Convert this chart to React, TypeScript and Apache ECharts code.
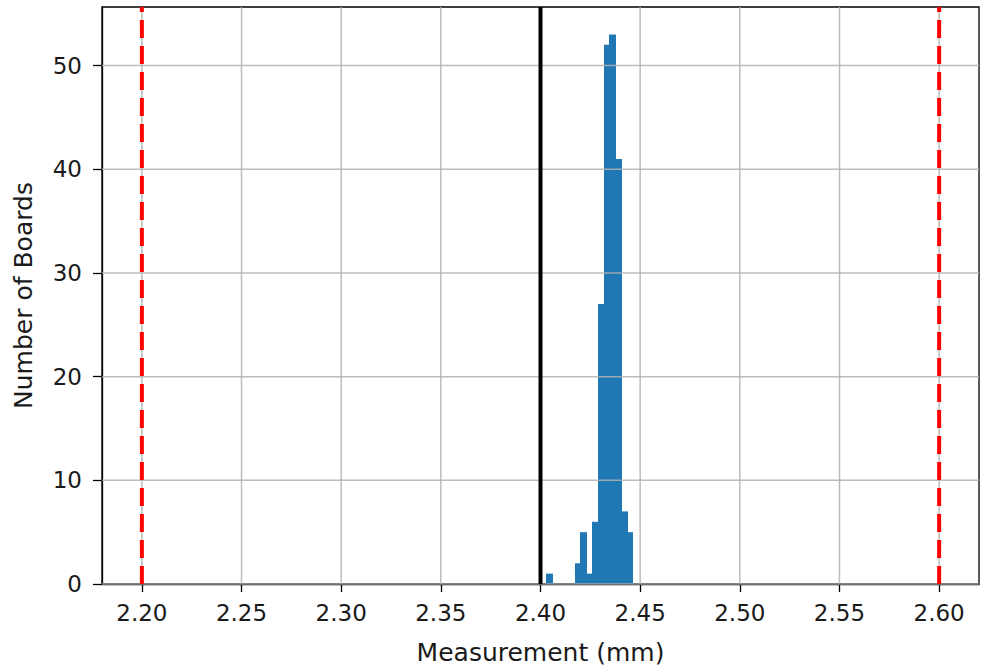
import React, { useEffect, useRef } from "react";
import * as echarts from "echarts";

// Histogram bin edges (mm) and counts per bin
const binEdges = [
  2.4029, 2.4058, 2.4087, 2.4116, 2.4145, 2.4174, 2.4203, 2.4232,
  2.4261, 2.429, 2.4319, 2.4348, 2.4377, 2.4406, 2.4435, 2.4464,
];
const counts = [1, 0, 0, 0, 0, 2, 5, 1, 6, 27, 52, 53, 41, 7, 5];

// Reference lines
const lowerLimit = 2.2;
const upperLimit = 2.6;
const nominal = 2.4;

// Axis ticks
const xTicks = [2.2, 2.25, 2.3, 2.35, 2.4, 2.45, 2.5, 2.55, 2.6];
const yTicks = [0, 10, 20, 30, 40, 50];
const xMin = 2.18;
const xMax = 2.62;
const yMin = 0;
const yMax = 55.65;

const FONT = "DejaVu Sans";
const TEXT = "#1a1a1a";

export default function App() {
  const ref = useRef<HTMLDivElement>(null);
  useEffect(() => {
    if (!ref.current) return;
    const chart = echarts.init(ref.current, undefined, { renderer: "svg" });
    const barData = counts.map((c, i) => [binEdges[i], binEdges[i + 1], c]);
    chart.setOption({
      animation: false,
      backgroundColor: "#ffffff",
      grid: {
        left: 102,
        right: 2,
        top: 7,
        bottom: 83,
        show: true,
        borderColor: "#000",
        borderWidth: 1.3,
        backgroundColor: "transparent",
      },
      xAxis: {
        type: "value",
        min: xMin,
        max: xMax,
        name: "Measurement (mm)",
        nameLocation: "middle",
        nameGap: 56,
        nameTextStyle: { fontFamily: FONT, fontSize: 25, color: TEXT },
        axisLine: { show: true, lineStyle: { color: "#000", width: 1.3 } },
        axisTick: {
          show: true,
          customValues: xTicks,
          length: 8,
          lineStyle: { color: "#000", width: 1.3 },
        },
        axisLabel: {
          customValues: xTicks,
          formatter: (v: number) => v.toFixed(2),
          fontFamily: FONT,
          fontSize: 23,
          color: TEXT,
          margin: 17,
        },
        splitLine: { show: false },
      },
      yAxis: {
        type: "value",
        min: yMin,
        max: yMax,
        interval: 10,
        name: "Number of Boards",
        nameLocation: "middle",
        nameGap: 66,
        nameTextStyle: { fontFamily: FONT, fontSize: 25, color: TEXT },
        axisLine: { show: true, lineStyle: { color: "#000", width: 1.3 } },
        axisTick: { show: true, length: 9, lineStyle: { color: "#000", width: 1.3 } },
        axisLabel: {
          fontFamily: FONT,
          fontSize: 23,
          color: TEXT,
          margin: 20,
          showMaxLabel: false,
        },
        splitLine: { show: false },
      },
      series: [
        {
          type: "custom",
          name: "hist",
          z: 2,
          encode: { x: [0, 1], y: 2 },
          data: barData,
          renderItem: (params: any, api: any) => {
            const p0 = api.coord([api.value(0), api.value(2)]);
            const p1 = api.coord([api.value(1), 0]);
            const x0 = Math.floor(p0[0]);
            const x1 = Math.ceil(p1[0]);
            return {
              type: "rect",
              shape: { x: x0, y: p0[1], width: x1 - x0, height: p1[1] - p0[1] },
              style: { fill: "#1f77b4" },
            };
          },
        },
        {
          type: "custom",
          name: "vgrid",
          z: 3,
          silent: true,
          encode: { x: 0, y: 1 },
          data: xTicks.map((v) => [v, 0]),
          renderItem: (params: any, api: any) => {
            const cs = params.coordSys;
            const x = api.coord([api.value(0), 0])[0];
            return {
              type: "line",
              shape: { x1: x, y1: cs.y, x2: x, y2: cs.y + cs.height },
              style: { stroke: "#b0b0b0", lineWidth: 1.5, opacity: 0.85 },
            };
          },
        },
        {
          type: "custom",
          name: "hgrid",
          z: 3,
          silent: true,
          encode: { x: 0, y: 1 },
          data: yTicks.map((v) => [nominal, v]),
          renderItem: (params: any, api: any) => {
            const cs = params.coordSys;
            const y = api.coord([nominal, api.value(1)])[1];
            return {
              type: "line",
              shape: { x1: cs.x, y1: y, x2: cs.x + cs.width, y2: y },
              style: { stroke: "#b0b0b0", lineWidth: 1.5, opacity: 0.85 },
            };
          },
        },
        {
          type: "line",
          name: "lower",
          z: 5,
          silent: true,
          symbol: "none",
          data: [
            [lowerLimit, yMin],
            [lowerLimit, yMax],
          ],
          lineStyle: { color: "#ff0000", width: 4, type: [18, 8] },
        },
        {
          type: "line",
          name: "upper",
          z: 5,
          silent: true,
          symbol: "none",
          data: [
            [upperLimit, yMin],
            [upperLimit, yMax],
          ],
          lineStyle: { color: "#ff0000", width: 4, type: [18, 8] },
        },
        {
          type: "line",
          name: "nominal",
          z: 5,
          silent: true,
          symbol: "none",
          data: [
            [nominal, yMin],
            [nominal, yMax],
          ],
          lineStyle: { color: "#000000", width: 4 },
        },
      ],
    });
    return () => chart.dispose();
  }, []);
  return (
    <div
      ref={ref}
      style={{ position: "absolute", left: 0, top: 0, width: 981, height: 670 }}
    />
  );
}
